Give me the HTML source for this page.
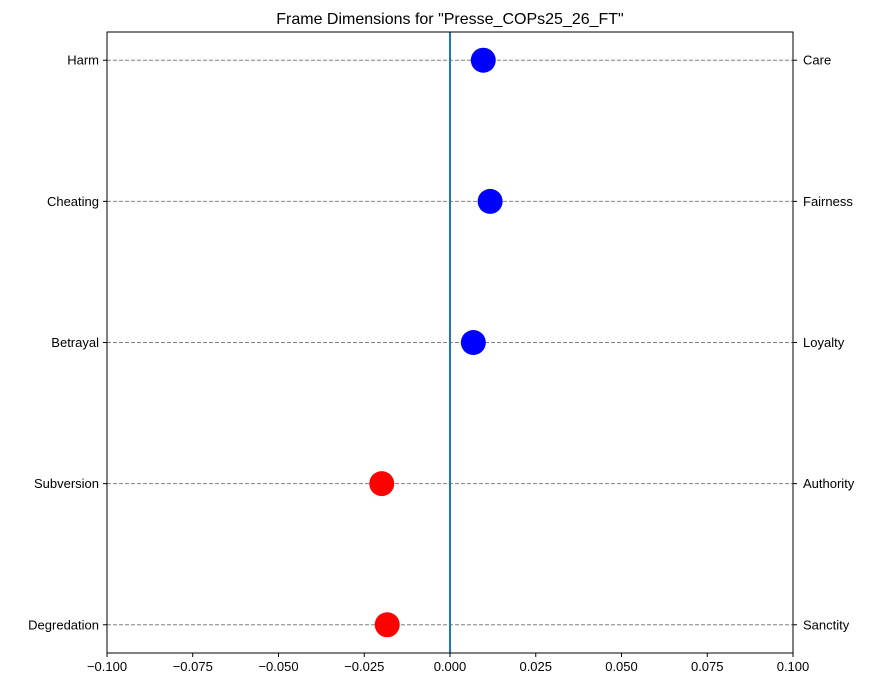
<!DOCTYPE html>
<html><head><meta charset="utf-8"><style>
body{margin:0;background:#fff}
svg{font-family:"Liberation Sans","DejaVu Sans",sans-serif;display:block}
</style></head><body>
<svg id="chart" width="877" height="687" xmlns="http://www.w3.org/2000/svg">
<rect width="877" height="687" fill="#fff"/>
<text x="450" y="24" text-anchor="middle" font-size="16">Frame Dimensions for "Presse_COPs25_26_FT"</text>
<g id="grid"></g>
<g id="marks"></g>
<rect x="107" y="32" width="686" height="621" fill="none" stroke="#000" stroke-width="1"/>
<g id="axes"></g>
</svg>
<script>
const leftLabels = ["Degredation","Subversion","Betrayal","Cheating","Harm"];
const rightLabels = ["Sanctity","Authority","Loyalty","Fairness","Care"];
const values = [-0.0183, -0.0199, 0.0068, 0.0117, 0.0097];
const xTicks = [-0.1,-0.075,-0.05,-0.025,0,0.025,0.05,0.075,0.1];
const xTickLabels = ["\u22120.100","\u22120.075","\u22120.050","\u22120.025","0.000","0.025","0.050","0.075","0.100"];

const NS="http://www.w3.org/2000/svg";
const X0=107,X1=793,Y0=32,Y1=653;
const xs=v=>X0+(v+0.1)/0.2*(X1-X0);
const ys=i=>Y1-(i+0.2)/4.4*(Y1-Y0);
function mk(tag,attrs,parent){const e=document.createElementNS(NS,tag);for(const k in attrs)e.setAttribute(k,attrs[k]);document.getElementById(parent).appendChild(e);return e;}

leftLabels.forEach((lab,i)=>{
  const y=ys(i);
  const g=mk('line',{x1:X0,x2:X1,y1:y,y2:y,stroke:'#808080','stroke-width':1,'stroke-dasharray':'4,2'},'grid');
  
  
  const tl=mk('line',{x1:X0-4,x2:X0,y1:y,y2:y,stroke:'#000'},'axes');
  
  
  const tr=mk('line',{x1:X1,x2:X1+4,y1:y,y2:y,stroke:'#000'},'axes');
  
  
  const l=mk('text',{x:X0-8,y:y+4.5,'text-anchor':'end','font-size':13},'axes');
  l.textContent=lab;
  
  
  const r=mk('text',{x:X1+10,y:y+4.5,'text-anchor':'start','font-size':13},'axes');
  r.textContent=rightLabels[i];
  
  
});
const zl=mk('line',{x1:xs(0),x2:xs(0),y1:Y0,y2:Y1,stroke:'#1f77b4','stroke-width':2},'marks');


values.forEach((v,i)=>{
  const c=mk('circle',{cx:xs(v),cy:ys(i),r:12.5,fill:v<0?'#ff0000':'#0000ff'},'marks');
  
  
});
xTicks.forEach((t,i)=>{
  const x=xs(t);
  const tk=mk('line',{x1:x,x2:x,y1:Y1,y2:Y1+4,stroke:'#000'},'axes');
  
  
  const tx=mk('text',{x:x,y:Y1+18,'text-anchor':'middle','font-size':13},'axes');
  tx.textContent=xTickLabels[i];
  
  
});
</script>
</body></html>
